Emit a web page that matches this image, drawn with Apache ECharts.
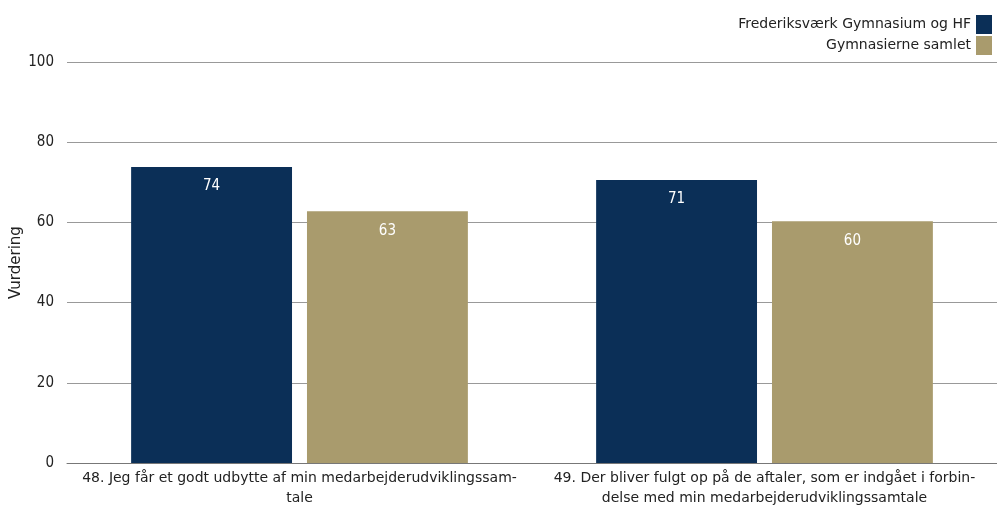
<!DOCTYPE html>
<html>
<head>
<meta charset="utf-8">
<script src="https://cdn.jsdelivr.net/npm/echarts@6/dist/echarts.min.js"></script>
<style>
  html, body { margin: 0; padding: 0; background: #fff; }
  #chart { width: 997px; height: 506px; }
</style>
</head>
<body>
<div id="chart"></div>
<script>
// data
var categories = [
  '48. Jeg får et godt udbytte af min medarbejderudviklingssam-\ntale',
  '49. Der bliver fulgt op på de aftaler, som er indgået i forbin-\ndelse med min medarbejderudviklingssamtale'
];
var seriesNames = ['Frederiksværk Gymnasium og HF', 'Gymnasierne samlet'];
var schoolValues = [73.8, 70.6];
var allValues = [62.8, 60.3];
var yTicks = [0, 20, 40, 60, 80, 100];

var font = 'DejaVu Sans, sans-serif';
var narrow = 'DejaVu Sans Condensed, DejaVu Sans, sans-serif';

var chart = echarts.init(document.getElementById('chart'));
chart.setOption({
  animation: false,
  textStyle: { fontFamily: font },
  grid: { left: 67, right: 0, top: 62, bottom: 43, outerBoundsMode: 'none', containLabel: false },
  legend: {
    orient: 'vertical',
    right: 0,
    top: 10,
    align: 'right',
    itemWidth: 16,
    itemHeight: 19,
    itemGap: 2,
    icon: 'rect',
    textStyle: { fontSize: 14, color: '#222', fontFamily: font },
    data: seriesNames
  },
  xAxis: {
    type: 'category',
    data: categories,
    axisTick: { show: false },
    axisLine: { lineStyle: { color: '#777' } },
    axisLabel: { color: '#222', fontSize: 14, lineHeight: 20, interval: 0, margin: 5, fontFamily: font }
  },
  yAxis: {
    type: 'value',
    min: yTicks[0],
    max: yTicks[yTicks.length - 1],
    interval: 20,
    name: 'Vurdering',
    nameLocation: 'middle',
    nameGap: 43,
    nameMoveOverlap: false,
    nameTextStyle: { color: '#222', fontSize: 15, fontFamily: font },
    axisLine: { show: false },
    axisTick: { show: false },
    axisLabel: { color: '#222', fontSize: 15, margin: 13, fontFamily: narrow },
    splitLine: { lineStyle: { color: '#999' } }
  },
  series: [
    {
      name: seriesNames[0],
      type: 'bar',
      data: schoolValues,
      barWidth: '34.6%',
      barGap: '9.3%',
      itemStyle: { color: '#0b2f57' },
      label: {
        show: true, position: 'insideTop', distance: 12, color: '#fff', fontSize: 15, fontFamily: narrow,
        formatter: function (p) { return Math.round(p.value); }
      }
    },
    {
      name: seriesNames[1],
      type: 'bar',
      data: allValues,
      barWidth: '34.6%',
      itemStyle: { color: '#a99b6d' },
      label: {
        show: true, position: 'insideTop', distance: 12, color: '#fff', fontSize: 15, fontFamily: narrow,
        formatter: function (p) { return Math.round(p.value); }
      }
    }
  ]
});
</script>
</body>
</html>
